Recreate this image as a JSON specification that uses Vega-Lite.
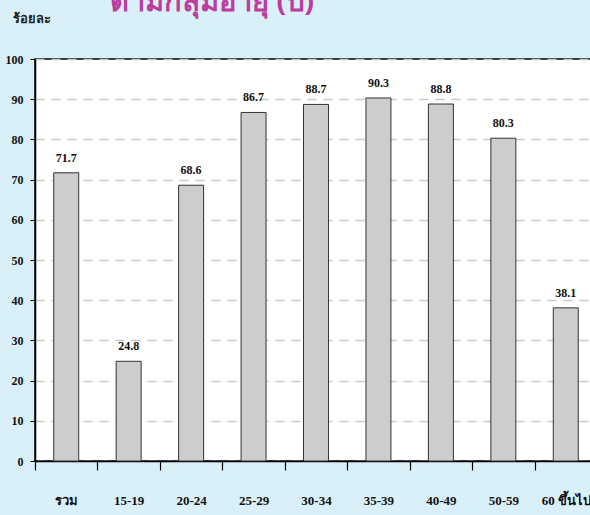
{
  "$schema": "https://vega.github.io/schema/vega-lite/v6.json",
  "autosize": "none",
  "width": 562,
  "height": 402,
  "padding": {"left": 35, "top": 59, "right": 0, "bottom": 54},
  "background": "#DAF0F9",
  "title": {
    "text": "ตามกลุ่มอายุ (ปี)",
    "anchor": "start",
    "frame": "group",
    "orient": "top",
    "font": "Noto Sans",
    "fontSize": 29,
    "fontWeight": "bold",
    "color": "#BE3C9E",
    "dx": 75,
    "dy": 34,
    "offset": 0,
    "baseline": "bottom"
  },
  "config": {
    "view": {"fill": "white", "stroke": "#000", "strokeWidth": 1.5},
    "axis": {"labelFont": "Liberation Serif", "labelFontWeight": "bold", "labelColor": "#111", "domainColor": "#000", "tickColor": "#000"}
  },
  "data": {
    "values": [
      {"group": "รวม", "value": 71.7},
      {"group": "15-19", "value": 24.8},
      {"group": "20-24", "value": 68.6},
      {"group": "25-29", "value": 86.7},
      {"group": "30-34", "value": 88.7},
      {"group": "35-39", "value": 90.3},
      {"group": "40-49", "value": 88.8},
      {"group": "50-59", "value": 80.3},
      {"group": "60 ขึ้นไป", "value": 38.1}
    ]
  },
  "encoding": {
    "x": {
      "field": "group",
      "type": "nominal",
      "sort": null,
      "scale": {"paddingInner": 0.6, "paddingOuter": 0.3},
      "axis": {
        "title": null,
        "labelAngle": 0,
        "labelFontSize": 13,
        "tickOffset": -31.2,
        "labelOffset": 31.2,
        "tickSize": 9,
        "tickWidth": 1.2,
        "domainWidth": 1.5,
        "labelPadding": 24
      }
    },
    "y": {
      "field": "value",
      "type": "quantitative",
      "scale": {"domain": [0, 100]},
      "axis": {
        "title": "ร้อยละ",
        "titleAngle": 0,
        "titleFont": "Liberation Serif",
        "titleFontSize": 13,
        "titleFontWeight": "bold",
        "titleColor": "#222",
        "titleX": -23,
        "titleY": -34,
        "titleAlign": "left",
        "values": [0,10,20,30,40,50,60,70,80,90,100],
        "labelOverlap": false,
        "labelFontSize": 12,
        "tickSize": 5,
        "labelPadding": 7,
        "domainWidth": 1.5,
        "grid": true,
        "gridColor": "#C8C8C8",
        "gridDash": [9, 7],
        "gridWidth": 1.5
      }
    }
  },
  "layer": [
    {
      "mark": {"type": "bar", "fill": "#CDCDCD", "stroke": "#333", "strokeWidth": 1}
    },
    {
      "mark": {"type": "text", "dy": -15, "font": "Liberation Serif", "fontWeight": "bold", "fontSize": 12, "color": "#111"},
      "encoding": {"text": {"field": "value", "type": "quantitative", "format": ".1f"}}
    }
  ]
}
